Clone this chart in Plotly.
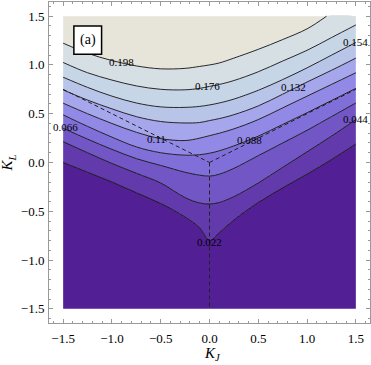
import plotly.graph_objects as go

# ---------------- data ----------------
KJ = [-1.5, -1.25, -1.0, -0.75, -0.5, -0.25, -0.1, 0.0, 0.1, 0.25, 0.5, 0.75, 1.0, 1.25, 1.5]

levels = [0.022, 0.044, 0.066, 0.088, 0.11, 0.132, 0.154, 0.176, 0.198]

KL_022 = [0.00, -0.10, -0.20, -0.31, -0.42, -0.56, -0.67, -0.80, -0.72, -0.59, -0.41, -0.26, -0.12, 0.03, 0.19]
KL_044 = [0.214, 0.10, -0.01, -0.11, -0.21, -0.36, -0.415, -0.425, -0.41, -0.35, -0.21, -0.05, 0.11, 0.27, 0.44]
KL_066 = [0.351, 0.24, 0.135, 0.04, -0.03, -0.10, -0.13, -0.14, -0.12, -0.06, 0.07, 0.20, 0.33, 0.47, 0.61]
KL_088 = [0.488, 0.37, 0.26, 0.16, 0.10, 0.075, 0.08, 0.095, 0.12, 0.17, 0.27, 0.39, 0.51, 0.635, 0.76]
KL_110 = [0.608, 0.50, 0.40, 0.31, 0.245, 0.225, 0.25, 0.275, 0.30, 0.345, 0.44, 0.56, 0.68, 0.80, 0.92]
KL_132 = [0.744, 0.64, 0.55, 0.47, 0.42, 0.405, 0.41, 0.43, 0.45, 0.49, 0.58, 0.70, 0.825, 0.945, 1.07]
KL_154 = [0.874, 0.77, 0.68, 0.61, 0.57, 0.565, 0.575, 0.59, 0.61, 0.65, 0.74, 0.85, 0.97, 1.10, 1.23]
KL_176 = [1.025, 0.92, 0.845, 0.785, 0.75, 0.745, 0.76, 0.78, 0.80, 0.84, 0.93, 1.04, 1.15, 1.28, 1.41]

# the 0.198 contour leaves the top of the domain near K_J = 1.2
KJ_198 = [-1.5, -1.25, -1.0, -0.75, -0.5, -0.25, -0.1, 0.0, 0.1, 0.25, 0.5, 0.75, 1.0, 1.2]
KL_198 = [1.223, 1.12, 1.045, 0.99, 0.96, 0.965, 0.985, 1.0, 1.02, 1.07, 1.16, 1.26, 1.37, 1.5]

band_colors = [
    "rgb(82,32,148)",    # below 0.022
    "rgb(98,58,172)",
    "rgb(114,86,197)",
    "rgb(128,111,216)",
    "rgb(146,137,231)",
    "rgb(166,166,236)",
    "rgb(185,196,233)",
    "rgb(199,214,231)",
    "rgb(213,223,228)",
    "rgb(231,228,218)",  # above 0.198
]

label_text = ["0.022", "0.044", "0.066", "0.088", "0.11", "0.132", "0.154", "0.176", "0.198"]
label_KJ = [-0.004, 1.50, -1.476, 0.413, -0.544, 0.864, 1.50, -0.025, -0.90]
label_KL = [-0.81, 0.444, 0.359, 0.226, 0.239, 0.769, 1.24, 0.779, 1.025]

# dashed boundaries
bnd_left_KJ, bnd_left_KL = [-1.5, 0.0], [0.75, 0.0]
bnd_right_KJ, bnd_right_KL = [0.0, 1.5], [0.0, 0.75]
bnd_vert_KJ, bnd_vert_KL = [0.0, 0.0], [0.0, -1.5]

K_MIN, K_MAX = -1.5, 1.5
AX_RANGE = [-1.645, 1.645]
panel_label = "(a)"

SERIF = "Liberation Serif"

# ---------------- figure ----------------
curves = [
    (KJ, KL_022), (KJ, KL_044), (KJ, KL_066), (KJ, KL_088), (KJ, KL_110),
    (KJ, KL_132), (KJ, KL_154), (KJ, KL_176), (KJ_198, KL_198),
]

fig = go.Figure()

fig.add_trace(go.Scatter(x=[K_MIN, K_MAX], y=[K_MIN, K_MIN], mode="lines",
                         line=dict(width=0), hoverinfo="skip"))
for i, (cx, cy) in enumerate(curves):
    fx, fy = list(cx), list(cy)
    if fx[-1] < K_MAX:
        fx.append(K_MAX)
        fy.append(K_MAX)
    fig.add_trace(go.Scatter(x=fx, y=fy, mode="lines", fill="tonexty",
                             fillcolor=band_colors[i],
                             line=dict(width=0, shape="spline", smoothing=1.0),
                             hoverinfo="skip"))
fig.add_trace(go.Scatter(x=[K_MIN, K_MAX], y=[K_MAX, K_MAX], mode="lines",
                         fill="tonexty", fillcolor=band_colors[-1],
                         line=dict(width=0), hoverinfo="skip"))

for cx, cy in curves:
    fig.add_trace(go.Scatter(x=cx, y=cy, mode="lines",
                             line=dict(color="#111111", width=0.9, shape="spline", smoothing=1.0),
                             hoverinfo="skip"))

for bx, by in [(bnd_left_KJ, bnd_left_KL), (bnd_right_KJ, bnd_right_KL), (bnd_vert_KJ, bnd_vert_KL)]:
    fig.add_trace(go.Scatter(x=bx, y=by, mode="lines",
                             line=dict(color="#222222", width=1, dash="4px,3px"),
                             hoverinfo="skip"))

for t, lx, ly in zip(label_text, label_KJ, label_KL):
    fig.add_annotation(x=lx, y=ly, text=t, showarrow=False, xanchor="center", yanchor="middle",
                       font=dict(family=SERIF, size=11, color="black"))

fig.add_shape(type="rect", x0=-1.39, x1=-1.106, y0=1.11, y1=1.40,
              line=dict(color="black", width=1.5), fillcolor="white", layer="above")
fig.add_annotation(x=-1.248, y=1.255, text=panel_label, showarrow=False,
                   font=dict(family=SERIF, size=14, color="black"))

fig.add_annotation(xref="paper", yref="paper", x=0.508, y=-0.097, showarrow=False,
                   text="<i>K</i><sub><i>J</i></sub>", xanchor="center", yanchor="middle",
                   font=dict(family=SERIF, size=15, color="black"))
fig.add_annotation(xref="paper", yref="paper", x=-0.128, y=0.50, showarrow=False,
                   text="<i>K</i><sub><i>L</i></sub>", textangle=-90, xanchor="center", yanchor="middle",
                   font=dict(family=SERIF, size=15, color="black"))

axis_common = dict(
    range=AX_RANGE, tickmode="linear", tick0=0, dtick=0.5, tickformat=".1f",
    ticks="inside", ticklen=4, tickwidth=1, tickcolor="#999999",
    minor=dict(tick0=0, dtick=0.1, ticks="inside", ticklen=2, tickcolor="#999999", showgrid=False),
    showgrid=False, zeroline=False, showline=True, linecolor="#999999", linewidth=1,
    mirror="allticks", automargin=False,
    tickfont=dict(family=SERIF, size=13, color="black"),
)
fig.update_xaxes(**axis_common, ticklabelstandoff=3)
fig.update_yaxes(**axis_common, ticklabelstandoff=1)

fig.update_layout(
    width=371, height=365,
    margin=dict(l=49, r=1, t=2, b=42, autoexpand=False),
    paper_bgcolor="white", plot_bgcolor="white",
    showlegend=False, hovermode=False,
    font=dict(family=SERIF),
)

fig.write_html("out.html",
               config={"displayModeBar": False, "staticPlot": True},
               post_script="document.body.style.margin='0';document.body.style.overflow='hidden';")
